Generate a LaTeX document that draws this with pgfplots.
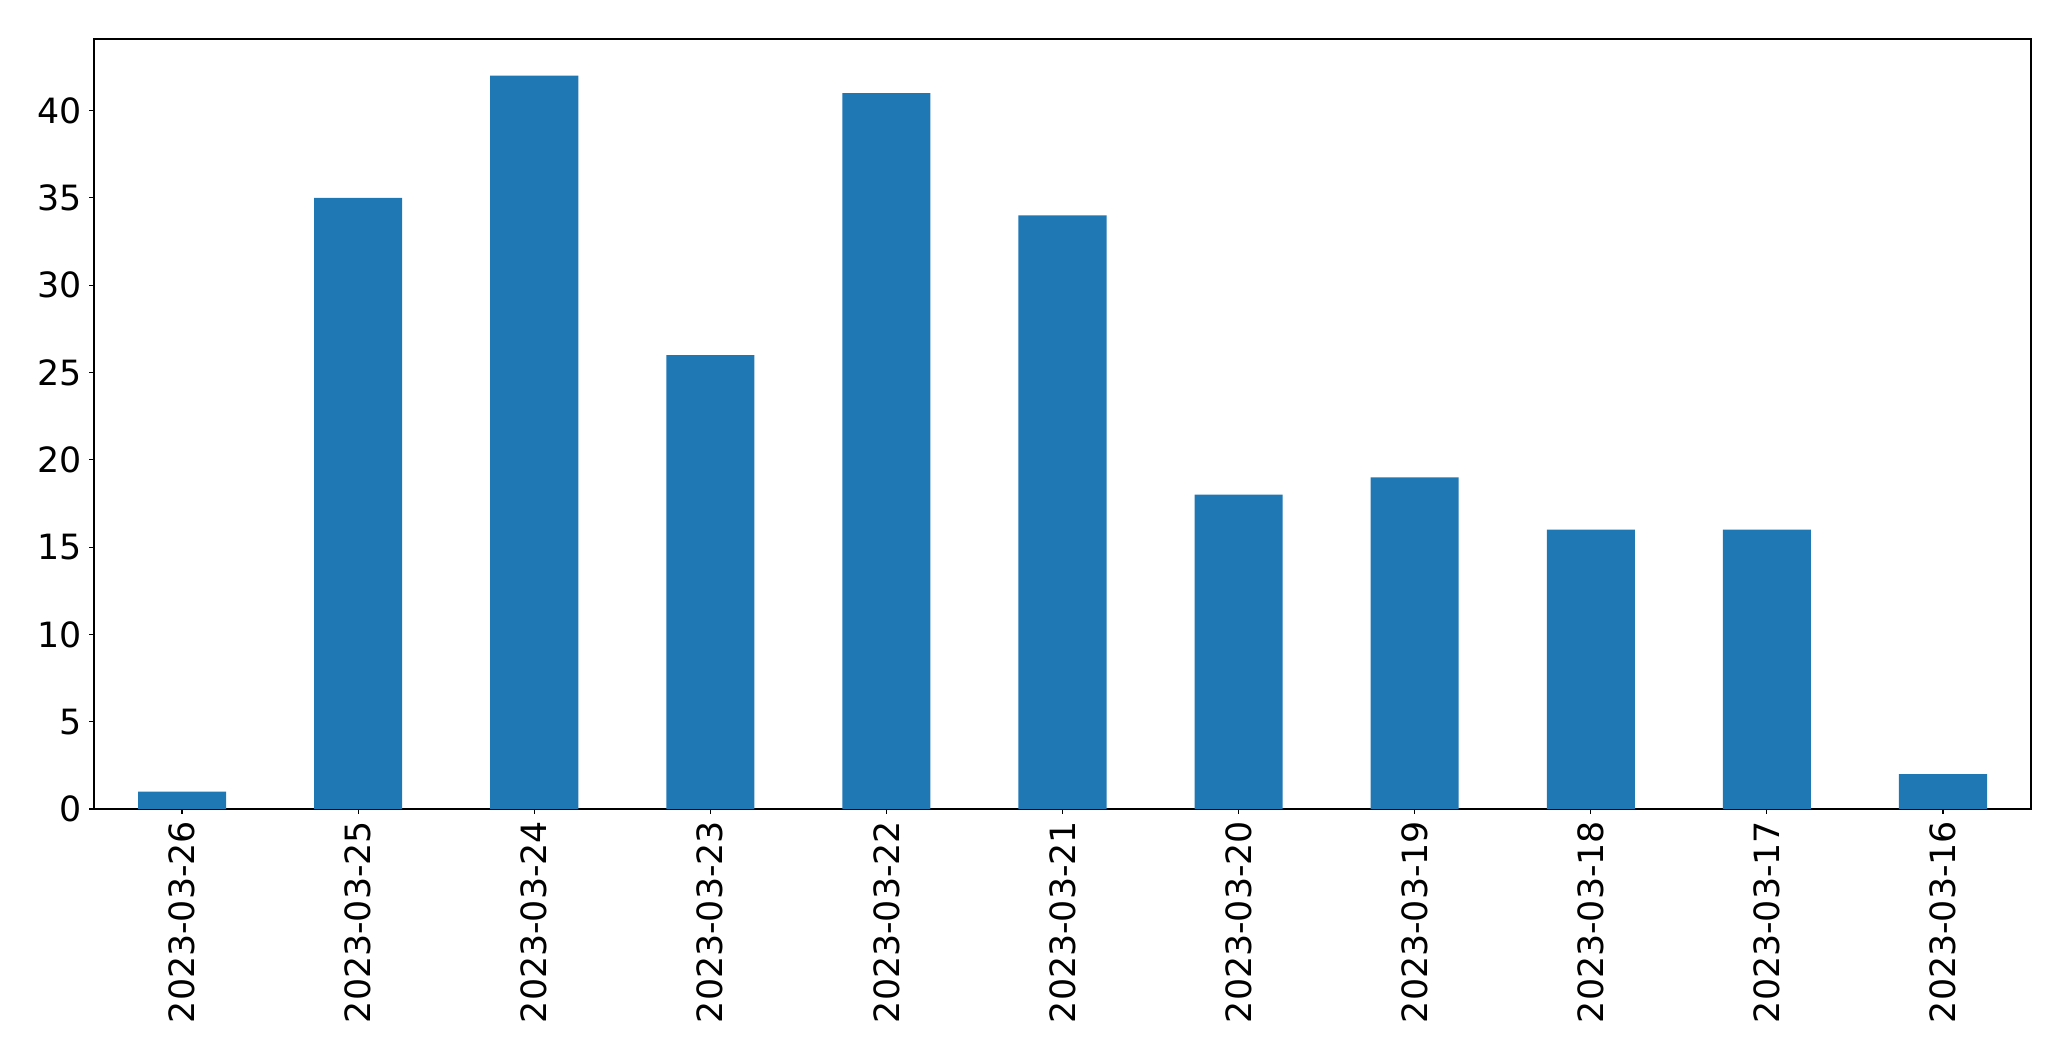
\documentclass[border=0pt]{standalone}
\usepackage{pgfplots}
\pgfplotsset{compat=1.18}
\usepackage{fontspec}
\setmainfont{DejaVu Sans}
\definecolor{tabblue}{HTML}{1F77B4}
\begin{document}
\begin{tikzpicture}
\path[use as bounding box] (-47pt,-126pt) rectangle (988.5pt,404.5pt);
\begin{axis}[
  at={(0,0)}, anchor=south west,
  scale only axis, width=968.5pt, height=385pt,
  xmin=-0.5, xmax=10.5, ymin=0, ymax=44.1,
  ybar, bar width=0.5,
  xtick={0,...,10},
  xticklabels={2023-03-26,2023-03-25,2023-03-24,2023-03-23,2023-03-22,2023-03-21,2023-03-20,2023-03-19,2023-03-18,2023-03-17,2023-03-16},
  x tick label style={rotate=90, anchor=east},
  ytick={0,5,...,40},
  tick align=outside, major tick length=2.4pt,
  tick style={black, line width=0.55pt},
  axis line style={line width=0.6pt},
  xtick pos=bottom, ytick pos=left,
  ticklabel style={font=\fontsize{17.4}{20}\selectfont},
  /pgf/number format/assume math mode=true,
  xticklabel shift=0pt, yticklabel shift=0pt,
]
\addplot[fill=tabblue, draw=none] coordinates {
(0,1) (1,35) (2,42) (3,26) (4,41) (5,34) (6,18) (7,19) (8,16) (9,16) (10,2)
};
\end{axis}
\end{tikzpicture}
\end{document}
